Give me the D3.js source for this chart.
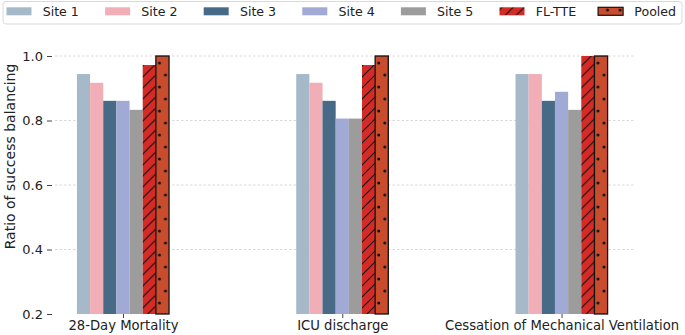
<!DOCTYPE html>
<html>
<head>
<meta charset="utf-8">
<script src="https://cdn.jsdelivr.net/npm/d3@7"></script>
<style>
  body { margin: 0; background: #fff; }
  text { font-family: "DejaVu Sans", sans-serif; fill: #222; }
</style>
</head>
<body>
<svg id="chart" width="685" height="335"></svg>
<script>
// chart data
const outcomes = ['28-Day Mortality', 'ICU discharge', 'Cessation of Mechanical Ventilation'];
const seriesNames = ['Site 1', 'Site 2', 'Site 3', 'Site 4', 'Site 5', 'FL-TTE', 'Pooled'];
const site1 = [0.944, 0.944, 0.944];
const site2 = [0.917, 0.917, 0.944];
const site3 = [0.861, 0.861, 0.861];
const site4 = [0.861, 0.806, 0.889];
const site5 = [0.833, 0.806, 0.833];
const flTte = [0.972, 0.972, 1.0];
const pooled = [1.0, 1.0, 1.0];
const yTicks = [0.2, 0.4, 0.6, 0.8, 1.0];

const seriesValues = [site1, site2, site3, site4, site5, flTte, pooled];
const colors = ['#a5b9c8', '#f2aeb6', '#476a86', '#a1a9d5', '#9c9c9c', '#d42b27', '#c94d2d'];

const svg = d3.select('#chart');
const defs = svg.append('defs');

// plot area
const plotLeft = 55, plotRight = 635, plotTop = 56, plotBottom = 314;

const x = d3.scaleLinear().domain([-0.31, 2.335]).range([plotLeft, plotRight]);
const y = d3.scaleLinear().domain([0.2, 1.0]).range([plotBottom, plotTop]);
const barW = 0.06; // in group units
const barOffset = i => (i - 3) * barW - barW / 2;

// grid lines (behind the bars)
svg.append('g').selectAll('line')
  .data(yTicks.filter(d => d > 0.2))
  .enter().append('line')
  .attr('x1', plotLeft).attr('x2', plotRight)
  .attr('y1', d => y(d)).attr('y2', d => y(d))
  .style('stroke', '#cfcfcf')
  .style('stroke-width', 0.8)
  .style('stroke-dasharray', '2.5,2');

// patterns: hatch for FL-TTE, dots for Pooled, aligned to each bar
function hatchPattern(id, x0, y0) {
  const s = 11;
  const p = defs.append('pattern')
    .attr('id', id)
    .attr('patternUnits', 'userSpaceOnUse')
    .attr('x', x0).attr('y', y0)
    .attr('width', s).attr('height', s);
  p.append('rect').attr('width', s).attr('height', s).style('fill', colors[5]);
  p.append('path')
    .attr('d', `M0,${s} L${s},0 M-2,2 L2,-2 M${s - 2},${s + 2} L${s + 2},${s - 2}`)
    .style('stroke', '#111')
    .style('stroke-width', 1.1);
}
function dotPattern(id, x0, y0) {
  const p = defs.append('pattern')
    .attr('id', id)
    .attr('patternUnits', 'userSpaceOnUse')
    .attr('x', x0).attr('y', y0)
    .attr('width', 12.6).attr('height', 24);
  p.append('rect').attr('width', 12.6).attr('height', 24).style('fill', colors[6]);
  p.append('circle').attr('cx', 3.6).attr('cy', 6).attr('r', 1.5).style('fill', '#111');
  p.append('circle').attr('cx', 9.6).attr('cy', 18).attr('r', 1.5).style('fill', '#111');
}

outcomes.forEach((o, gi) => {
  hatchPattern('hatch-' + gi, x(gi + barOffset(5)), 0);
  dotPattern('dots-' + gi, x(gi + barOffset(6)), y(1.0) + 1);
});

function barFill(si, gi) {
  if (si === 5) return `url(#hatch-${gi})`;
  if (si === 6) return `url(#dots-${gi})`;
  return colors[si];
}

// bars
const bars = svg.append('g');
seriesValues.forEach((vals, si) => {
  bars.selectAll('.bar-' + si)
    .data(vals)
    .enter().append('rect')
    .attr('class', 'bar-' + si)
    .attr('x', (d, gi) => x(gi + barOffset(si)))
    .attr('width', x(barW) - x(0))
    .attr('y', d => y(d))
    .attr('height', d => y(0.2) - y(d))
    .style('fill', (d, gi) => barFill(si, gi))
    .style('stroke', si === 6 ? '#111' : 'none')
    .style('stroke-width', 1.3);
});

// y axis
const yAxis = svg.append('g')
  .attr('transform', `translate(${plotLeft - 3},0)`)
  .call(d3.axisLeft(y).tickValues(yTicks).tickFormat(d3.format('.1f')).tickSize(5).tickPadding(4));
yAxis.select('.domain').remove();
yAxis.selectAll('line').style('stroke', '#444');
yAxis.selectAll('text').style('font-size', '13px').style('fill', '#222');

// x axis
const xAxis = svg.append('g')
  .attr('transform', `translate(0,${plotBottom})`)
  .call(d3.axisBottom(x).tickValues([0, 1, 2]).tickFormat(i => outcomes[i]).tickSize(4).tickPadding(3));
xAxis.select('.domain').remove();
xAxis.selectAll('line').style('stroke', '#444');
xAxis.selectAll('text').style('font-size', '13.2px').style('fill', '#222');

// y label
svg.append('text')
  .attr('transform', 'translate(15,156.5) rotate(-90)')
  .attr('text-anchor', 'middle')
  .style('font-size', '14px')
  .text('Ratio of success balancing');

// legend
hatchPattern('hatch-leg', 498, 7);
dotPattern('dots-leg', 598, 4);
const legend = svg.append('g');
legend.append('rect')
  .attr('x', 3).attr('y', 1.5)
  .attr('width', 679).attr('height', 22.5)
  .attr('rx', 3)
  .style('fill', '#fff')
  .style('stroke', '#d9d9d9')
  .style('stroke-width', 1);

const items = legend.selectAll('.legend-item')
  .data(seriesNames)
  .enter().append('g')
  .attr('class', 'legend-item')
  .attr('transform', (d, i) => `translate(${6.5 + i * 98.6},0)`);

items.append('rect')
  .attr('x', 0).attr('y', 7.3)
  .attr('width', 25).attr('height', 8)
  .style('fill', (d, i) => i === 5 ? 'url(#hatch-leg)' : i === 6 ? 'url(#dots-leg)' : colors[i])
  .style('stroke', (d, i) => i === 6 ? '#111' : 'none')
  .style('stroke-width', 1.2);

items.append('text')
  .attr('x', 36.2)
  .attr('y', 11.5)
  .attr('dy', '0.35em')
  .style('font-size', '12.6px')
  .text(d => d);
</script>
</body>
</html>
